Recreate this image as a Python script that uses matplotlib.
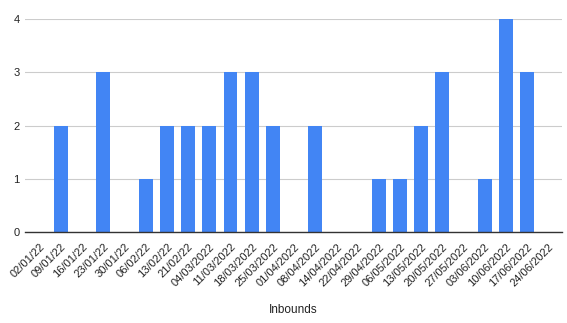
import matplotlib
matplotlib.use("Agg")
import matplotlib.pyplot as plt

categories = ["02/01/22", "09/01/22", "16/01/22", "23/01/22", "30/01/22", "06/02/22",
              "13/02/22", "21/02/22", "04/03/2022", "11/03/2022", "18/03/2022",
              "25/03/2022", "01/04/2022", "08/04/2022", "14/04/2022", "22/04/2022",
              "29/04/2022", "06/05/2022", "13/05/2022", "20/05/2022", "27/05/2022",
              "03/06/2022", "10/06/2022", "17/06/2022", "24/06/2022"]
values = [0, 2, 0, 3, 0, 1, 2, 2, 2, 3, 3, 2, 0, 2, 0, 0, 1, 1, 2, 3, 0, 1, 4, 3, 0]
yticks = [0, 1, 2, 3, 4]

plt.rcParams['font.family'] = ['Liberation Sans', 'DejaVu Sans']
fig = plt.figure(figsize=(5.67, 3.23), dpi=100)
ax = fig.add_axes([25 / 567, 1 - 232 / 323, 537 / 567, 213 / 323])
x = list(range(len(categories)))
ax.bar(x, values, width=0.65, color="#4285F4", zorder=3)
ax.set_xlim(-0.7, len(categories) - 0.35)
ax.set_ylim(0, 4)
ax.set_yticks(yticks)
ax.set_yticklabels([str(v) for v in yticks], fontsize=8, color="#222222")
ax.set_xticks(x)
ax.set_xticklabels(categories, rotation=45, ha="right", rotation_mode="anchor",
                   fontsize=8, color="#222222")
ax.tick_params(axis="y", length=0, pad=4)
ax.tick_params(axis="x", length=0, pad=7)
ax.grid(axis="y", color="#cccccc", linewidth=0.8, zorder=0)
for s in ["top", "right", "left"]:
    ax.spines[s].set_visible(False)
ax.spines["bottom"].set_color("#333333")
ax.spines["bottom"].set_linewidth(1)
ax.spines["bottom"].set_zorder(4)
ax.set_xlabel("Inbounds", fontsize=8.5, color="#222222", labelpad=11)
fig.savefig("out.png", dpi=100, facecolor="white")
